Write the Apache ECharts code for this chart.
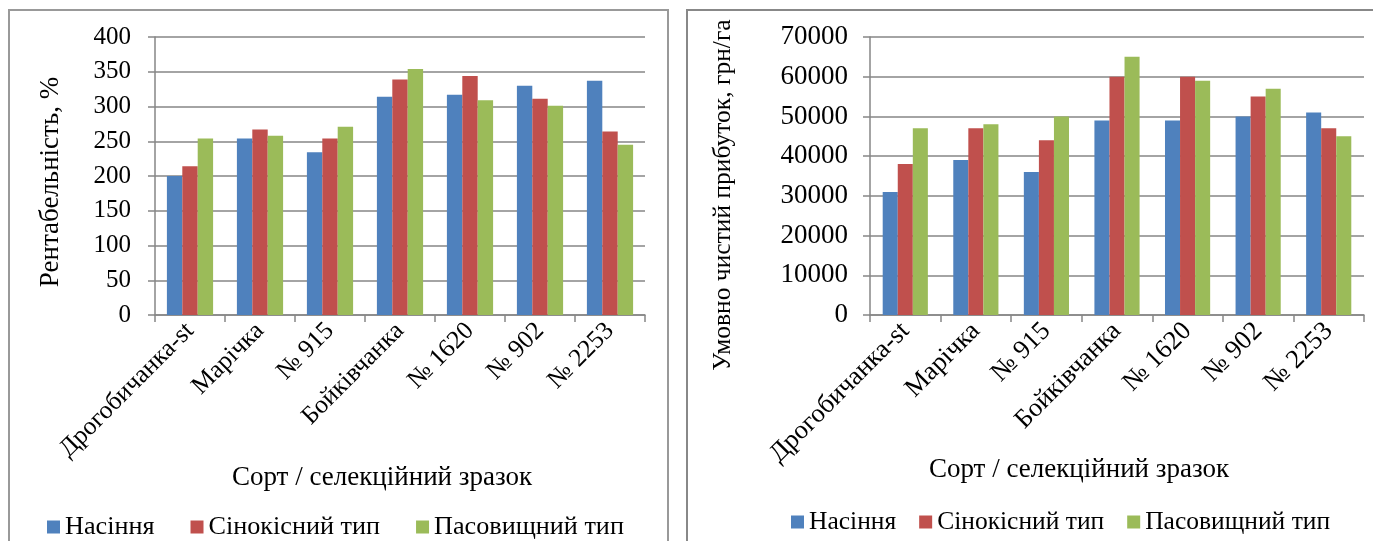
<!DOCTYPE html>
<html>
<head>
<meta charset="utf-8">
<script src="https://cdn.jsdelivr.net/npm/echarts@6/dist/echarts.min.js"></script>
<style>
  html, body { margin: 0; padding: 0; background: #fff; overflow: hidden; }
  #chart { width: 1373px; height: 541px; }
</style>
</head>
<body>
<div id="chart"></div>
<script>
  // categories and series names
  const categories = ['Дрогобичанка-st', 'Марічка', '№ 915', 'Бойківчанка', '№ 1620', '№ 902', '№ 2253'];
  const seriesNames = ['Насіння', 'Сінокісний тип', 'Пасовищний тип'];

  // left chart: рентабельність, %
  const profitSeed = [200, 254, 234, 314, 317, 330, 337];
  const profitHay = [214, 267, 254, 339, 344, 311, 264];
  const profitPasture = [254, 258, 271, 354, 309, 301, 245];

  // right chart: умовно чистий прибуток, грн/га
  const incomeSeed = [31000, 39000, 36000, 49000, 49000, 50000, 51000];
  const incomeHay = [38000, 47000, 44000, 60000, 60000, 55000, 47000];
  const incomePasture = [47000, 48000, 50000, 65000, 59000, 57000, 45000];

  const colors = ['#4F81BD', '#C0504D', '#9BBB59'];
  const font = '"Liberation Serif", "Times New Roman", serif';
  const gridColor = '#868686';

  const chart = echarts.init(document.getElementById('chart'));

  function xAxisFor(gridIndex, size) {
    return {
      type: 'category',
      gridIndex: gridIndex,
      data: categories,
      axisLine: { lineStyle: { color: gridColor, width: 1.5 } },
      axisTick: { show: true, length: 7, lineStyle: { color: gridColor, width: 1.5 } },
      axisLabel: { rotate: 45, interval: 0, margin: 12, fontSize: size, fontFamily: font, color: '#000' }
    };
  }

  function yAxisFor(gridIndex, max, interval, margin, size) {
    return {
      type: 'value',
      gridIndex: gridIndex,
      min: 0,
      max: max,
      interval: interval,
      axisLine: { show: true, lineStyle: { color: gridColor, width: 1.5 } },
      axisTick: { show: true, length: 7, lineStyle: { color: gridColor, width: 1.5 } },
      splitLine: { lineStyle: { color: gridColor, width: 1.5 } },
      axisLabel: {
        fontSize: size, fontFamily: font, color: '#000', margin: margin,
        formatter: function (v) { return String(v); }
      }
    };
  }

  function barSeries(name, data, idx, axisIdx, gap) {
    return {
      name: name,
      type: 'bar',
      xAxisIndex: axisIdx,
      yAxisIndex: axisIdx,
      data: data,
      barGap: '0%',
      barCategoryGap: gap,
      itemStyle: { color: colors[idx] },
      emphasis: { disabled: true }
    };
  }

  function legendAt(left, top, gap, size) {
    return {
      data: seriesNames,
      left: left,
      top: top,
      padding: 0,
      itemGap: gap,
      icon: 'rect',
      itemWidth: 13,
      itemHeight: 13,
      textStyle: { fontSize: size, fontFamily: font, color: '#000' }
    };
  }

  function title(text, x, y, size, vertical) {
    return {
      type: 'text', x: x, y: y, rotation: vertical ? Math.PI / 2 : 0,
      style: { text: text, fontSize: size, fontFamily: font, fill: '#000',
        align: 'center', verticalAlign: 'middle' }
    };
  }

  const option = {
    animation: false,
    color: colors,
    textStyle: { fontFamily: font },
    grid: [
      { left: 155, top: 37, width: 490, height: 278 },
      { left: 870, top: 37, width: 494, height: 278 }
    ],
    xAxis: [xAxisFor(0, 25.5), xAxisFor(1, 26.5)],
    yAxis: [yAxisFor(0, 400, 50, 24, 25), yAxisFor(1, 70000, 10000, 22, 27)],
    legend: [legendAt(47, 514, 36, 26.2), legendAt(791, 509, 23, 25.5)],
    series: [
      barSeries(seriesNames[0], profitSeed, 0, 0, '34%'),
      barSeries(seriesNames[1], profitHay, 1, 0, '34%'),
      barSeries(seriesNames[2], profitPasture, 2, 0, '34%'),
      barSeries(seriesNames[0], incomeSeed, 0, 1, '36%'),
      barSeries(seriesNames[1], incomeHay, 1, 1, '36%'),
      barSeries(seriesNames[2], incomePasture, 2, 1, '36%')
    ],
    graphic: [
      // panel frames
      { type: 'rect', shape: { x: 9, y: 10, width: 659, height: 545 },
        style: { fill: 'none', stroke: '#999', lineWidth: 2 }, silent: true },
      { type: 'rect', shape: { x: 687, y: 10, width: 700, height: 545 },
        style: { fill: 'none', stroke: '#888', lineWidth: 2 }, silent: true },
      // axis titles
      title('Рентабельність, %', 51, 182, 27, true),
      title('Умовно чистий прибуток, грн/га', 723, 195, 25.5, true),
      title('Сорт / селекційний зразок', 382, 478, 27, false),
      title('Сорт / селекційний зразок', 1079, 470, 27, false)
    ]
  };

  chart.setOption(option);
</script>
</body>
</html>
